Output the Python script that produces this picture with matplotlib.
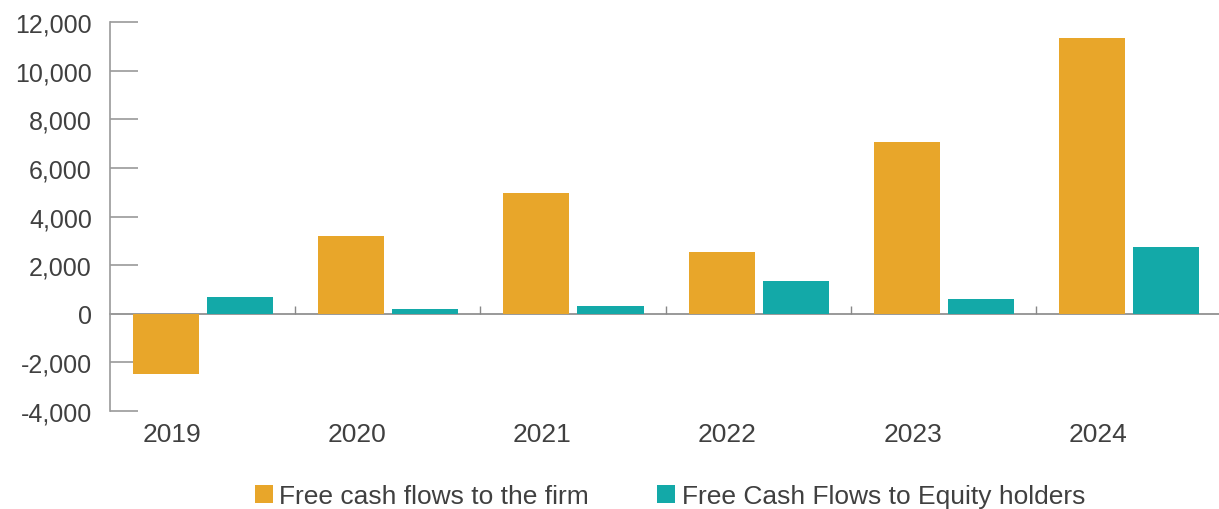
import matplotlib
matplotlib.use("Agg")
import matplotlib.pyplot as plt
from matplotlib.ticker import FuncFormatter, FixedLocator
from matplotlib.patches import Patch
import numpy as np

plt.rcParams['font.family'] = ['Liberation Sans', 'DejaVu Sans']

years = ["2019", "2020", "2021", "2022", "2023", "2024"]
fcff = [-2470, 3210, 4980, 2550, 7080, 11360]
fcfe = [700, 200, 330, 1360, 620, 2760]
series_names = ["Free cash flows to the firm", "Free Cash Flows to Equity holders"]

orange = "#E8A62A"
teal = "#13A9A8"
axis_gray = "#9A9A9A"
text_gray = "#404040"

fig = plt.figure(figsize=(12.19, 5.10), dpi=100)
ax = fig.add_axes([110 / 1219, 1 - 412 / 510, 1111 / 1219, (412 - 23) / 510])

x = np.arange(len(years))
w = 0.357
ax.bar(x - 0.197, fcff, width=w, color=orange, zorder=2)
ax.bar(x + 0.203, fcfe, width=w, color=teal, zorder=2)

ax.set_xlim(-0.5, len(years) - 0.5)
ax.set_ylim(-4000, 12000)
ax.set_yticks(np.arange(-4000, 12001, 2000))
ax.yaxis.set_major_formatter(FuncFormatter(lambda v, p: f"{v:,.0f}"))
ax.tick_params(axis="y", direction="in", length=20, width=1.2, color=axis_gray,
               labelsize=18, labelcolor=text_gray, pad=13)

# year labels sit under the firm bars
ax.set_xticks(x - 0.165)
ax.set_xticklabels(years)
ax.tick_params(axis="x", length=0, labelsize=19, labelcolor=text_gray, pad=8)

for s in ("top", "right", "bottom"):
    ax.spines[s].set_visible(False)
ax.spines["left"].set_color(axis_gray)
ax.spines["left"].set_linewidth(1.2)

# zero baseline with small category-boundary ticks
zero = ax.secondary_xaxis(0.25)
zero.spines["bottom"].set_color("#888888")
zero.spines["bottom"].set_linewidth(1.2)
zero.xaxis.set_major_locator(FixedLocator(np.arange(0.5, len(years) - 0.5, 1.0)))
zero.tick_params(axis="x", direction="in", length=6, width=1.0, color="#888888",
                 labelbottom=False)

handles = [Patch(facecolor=orange, edgecolor="none"), Patch(facecolor=teal, edgecolor="none")]
fig.legend(handles, series_names, loc="center", bbox_to_anchor=(670 / 1219, 1 - 497 / 510),
           ncol=2, frameon=False, fontsize=19, handlelength=0.68, handleheight=0.68,
           handletextpad=0.25, columnspacing=2.6, labelcolor=text_gray,
           borderpad=0.0, borderaxespad=0.0)

fig.savefig("out.png", dpi=100)
